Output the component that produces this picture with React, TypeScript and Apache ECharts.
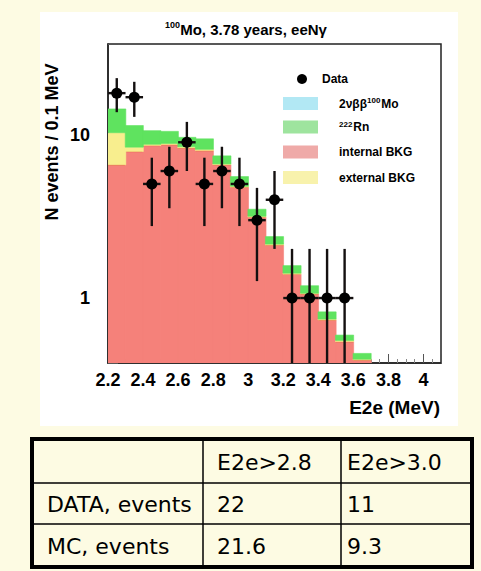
import React, { useEffect, useRef } from 'react';
import * as echarts from 'echarts';

// Histogram bin edges (MeV), 0.1 MeV bins
const binEdges = [2.2, 2.3, 2.4, 2.5, 2.6, 2.7, 2.8, 2.9, 3.0, 3.1, 3.2, 3.3, 3.4, 3.5, 3.6, 3.7];
// MC components (events / 0.1 MeV), stacked bottom -> top
const internalBkg = [6.55, 7.9, 8.6, 8.7, 8.3, 8.0, 6.55, 4.78, 3.13, 2.11, 1.4, 1.06, 0.733, 0.54, 0.417];
const externalBkg = [3.75, 0.5, 0.15, 0.15, 0.15, 0.15, 0.08, 0.06, 0.04, 0.03, 0.02, 0.01, 0.01, 0.01, 0.005];
const radon222 = [4.1, 3.0, 1.85, 1.65, 1.2, 1.3, 0.8, 0.71, 0.33, 0.24, 0.16, 0.12, 0.08, 0.043, 0.036];
const mo2nbb = [0, 0, 0, 0, 0, 0, 0, 0, 0, 0, 0, 0, 0, 0, 0];
// Data counts per bin and their errors
const dataCounts = [18, 17, 5, 6, 9, 5, 6, 5, 3, 4, 1, 1, 1, 1];
const dataErrors = [4.24, 4.12, 2.24, 2.45, 3.0, 2.24, 2.45, 2.24, 1.73, 2.0, 1.0, 1.0, 1.0, 1.0];
// Axis
const xTicks = ['2.2', '2.4', '2.6', '2.8', '3', '3.2', '3.4', '3.6', '3.8', '4'];
const yTickLabels = ['1', '10'];
// Table
const tableHeader = ['', 'E2e>2.8', 'E2e>3.0'];
const tableRows = [
  ['DATA, events', '22', '11'],
  ['MC, events', '21.6', '9.3'],
];

const X_MIN = 2.2;
const X_MAX = 4.1;
const Y_MIN = 0.4;
const Y_MAX = 36;

const layers = [
  { name: 'internal BKG', values: internalBkg, color: '#f5817a', top: '#d9472f' },
  { name: 'external BKG', values: externalBkg, color: '#f8ee8e', top: '' },
  { name: '222Rn', values: radon222, color: '#5fe35f', top: '' },
  { name: '2nbb', values: mo2nbb, color: '#aee6f2', top: '' },
];

export default function App() {
  const ref = useRef<HTMLDivElement>(null);
  useEffect(() => {
    if (!ref.current) return;
    const chart = echarts.init(ref.current, undefined, { renderer: 'svg' });

    const cum = binEdges.slice(0, -1).map(() => Y_MIN);
    const histSeries: any[] = layers.map((layer, li) => {
      const data = layer.values.map((v, i) => {
        const base = cum[i];
        const top = li === 0 ? v : cum[i] + v;
        cum[i] = top;
        return [binEdges[i], binEdges[i + 1], base, top];
      });
      return {
        type: 'custom',
        name: layer.name,
        clip: true,
        z: 2 + li,
        encode: { x: [0, 1], y: [2, 3] },
        data,
        renderItem: (params: any, api: any) => {
          const x0 = api.value(0), x1 = api.value(1), b = api.value(2), t = api.value(3);
          if (!(t > b)) return null;
          const p0 = api.coord([x0, t]);
          const p1 = api.coord([x1, b]);
          const children: any[] = [
            {
              type: 'rect',
              shape: { x: p0[0] - 0.3, y: p0[1], width: p1[0] - p0[0] + 0.6, height: p1[1] - p0[1] },
              style: { fill: layer.color, stroke: layer.color, lineWidth: 0.6 },
            },
          ];
          if (layer.top) {
            children.push({ type: 'line', shape: { x1: p0[0], y1: p0[1], x2: p1[0], y2: p0[1] }, style: { stroke: layer.top, lineWidth: 1.2 } });
          }
          return { type: 'group', children };
        },
      };
    });

    const pointData = dataCounts.map((n, i) => [
      binEdges[i], binEdges[i + 1], n, Math.max(n - dataErrors[i], Y_MIN), n + dataErrors[i],
    ]);

    const dataSeries = {
      type: 'custom',
      name: 'Data',
      clip: true,
      z: 10,
      encode: { x: [0, 1], y: [2, 3, 4] },
      data: pointData,
      renderItem: (params: any, api: any) => {
        const x0 = api.value(0), x1 = api.value(1), n = api.value(2), lo = api.value(3), hi = api.value(4);
        const xc = (x0 + x1) / 2;
        const pc = api.coord([xc, n]);
        const pl = api.coord([x0, n]);
        const pr = api.coord([x1, n]);
        const pLo = api.coord([xc, lo]);
        const pHi = api.coord([xc, hi]);
        return {
          type: 'group',
          children: [
            { type: 'line', shape: { x1: pc[0], y1: pHi[1], x2: pc[0], y2: pLo[1] }, style: { stroke: '#141010', lineWidth: 2.4 } },
            { type: 'line', shape: { x1: pl[0], y1: pc[1], x2: pr[0], y2: pc[1] }, style: { stroke: '#141010', lineWidth: 2.4 } },
            { type: 'circle', shape: { cx: pc[0], cy: pc[1], r: 5.5 }, style: { fill: '#000' } },
          ],
        };
      },
    };

    const labelFont = { fontFamily: 'Liberation Sans, Arial, sans-serif', fontWeight: 'bold' as const, color: '#000' };
    const legendItems = [
      { color: '#b2e8f4', text: '2\u03bd\u03b2\u03b2{s|100}Mo', y: 103.5 },
      { color: '#9ee49e', text: '{s|222}Rn', y: 127 },
      { color: '#efaaa8', text: 'internal BKG', y: 152 },
      { color: '#f8f2ac', text: 'external BKG', y: 177.5 },
    ];

    const graphics: any[] = [
      { type: 'rect', z: -10, shape: { x: 40, y: 12, width: 418, height: 414 }, style: { fill: '#ffffff' } },
      {
        type: 'text', x: 246, y: 29, z: 20,
        style: {
          text: '{s|100}{m|Mo, 3.78 years, eeN\u03b3}',
          align: 'center', verticalAlign: 'middle',
          rich: {
            s: { fontSize: 9, fontWeight: 'bold', fontFamily: 'Liberation Sans, Arial', fill: '#000', verticalAlign: 'top', padding: [0, 0, 8, 0] },
            m: { fontSize: 15, fontWeight: 'bold', fontFamily: 'Liberation Sans, Arial', fill: '#000' },
          },
        },
      },
      {
        type: 'text', x: 52, y: 142, rotation: Math.PI / 2, z: 20,
        style: { text: 'N events / 0.1 MeV', align: 'center', verticalAlign: 'middle', font: 'bold 18px "Liberation Sans", Arial', fill: '#000' },
      },
      {
        type: 'text', x: 440, y: 407, z: 20,
        style: { text: 'E2e (MeV)', align: 'right', verticalAlign: 'middle', font: 'bold 19px "Liberation Sans", Arial', fill: '#000' },
      },
      { type: 'circle', z: 20, shape: { cx: 302, cy: 79, r: 5 }, style: { fill: '#000' } },
      {
        type: 'text', x: 322, y: 79, z: 20,
        style: { text: 'Data', align: 'left', verticalAlign: 'middle', font: 'bold 12px "Liberation Sans", Arial', fill: '#000' },
      },
    ];
    legendItems.forEach((it) => {
      graphics.push({ type: 'rect', z: 20, shape: { x: 283, y: it.y - 6.5, width: 35, height: 13 }, style: { fill: it.color } });
      graphics.push({
        type: 'text', x: 339, y: it.y, z: 20,
        style: {
          text: it.text, align: 'left', verticalAlign: 'middle',
          font: 'bold 12px "Liberation Sans", Arial', fill: '#000',
          rich: {
            s: { fontSize: 8, fontWeight: 'bold', fontFamily: 'Liberation Sans, Arial', fill: '#000', verticalAlign: 'top', padding: [0, 1, 6, 0] },
          },
        },
      });
    });

    // Table
    const tX = [32, 203, 341, 472];
    const tY = [439, 483, 524, 567];
    const textX = [47, 217, 347];
    const tableFont = '22px "DejaVu Sans", Verdana, sans-serif';
    [1, 2].forEach((r) => {
      graphics.push({ type: 'line', z: 20, shape: { x1: tX[0], y1: tY[r], x2: tX[3], y2: tY[r] }, style: { stroke: '#000', lineWidth: 1.5 } });
    });
    [1, 2].forEach((c) => {
      graphics.push({ type: 'line', z: 20, shape: { x1: tX[c], y1: tY[0], x2: tX[c], y2: tY[3] }, style: { stroke: '#000', lineWidth: 1.5 } });
    });
    graphics.push({ type: 'rect', z: 21, shape: { x: tX[0], y: tY[0], width: tX[3] - tX[0], height: tY[3] - tY[0] }, style: { fill: 'none', stroke: '#000', lineWidth: 4 } });
    const allRows = [tableHeader, ...tableRows];
    allRows.forEach((row, r) => {
      row.forEach((cell, c) => {
        if (!cell) return;
        graphics.push({
          type: 'text', z: 22, x: textX[c], y: (tY[r] + tY[r + 1]) / 2 + 1,
          style: { text: cell, align: 'left', verticalAlign: 'middle', font: tableFont, fill: '#000' },
        });
      });
    });

    chart.setOption({
      animation: false,
      backgroundColor: '#fdfbe3',
      grid: { left: 108, right: 40, top: 44, bottom: 208, show: true, backgroundColor: '#ffffff', borderColor: '#222', borderWidth: 1.5 },
      xAxis: {
        type: 'value', min: X_MIN, max: X_MAX, interval: 0.2,
        axisLine: { show: true, lineStyle: { color: '#222', width: 1.5 } },
        axisTick: { show: true, inside: true, length: 9, lineStyle: { color: '#555' } },
        minorTick: { show: true, splitNumber: 4, length: 4, lineStyle: { color: '#888' } },
        splitLine: { show: false },
        axisLabel: {
          ...labelFont, fontSize: 18, margin: 8, showMaxLabel: false,
          formatter: (v: number) => {
            const s = String(Math.round(v * 10) / 10);
            return xTicks.includes(s) ? s : '';
          },
        },
      },
      yAxis: {
        type: 'log', logBase: 10, min: Y_MIN, max: Y_MAX,
        axisLine: { show: true, lineStyle: { color: '#222', width: 1.5 } },
        axisTick: { show: true, inside: true, length: 10, lineStyle: { color: '#555' } },
        splitLine: { show: false },
        axisLabel: {
          ...labelFont, fontSize: 18, margin: 18,
          formatter: (v: number) => {
            const s = String(Math.round(v * 1000) / 1000);
            return yTickLabels.includes(s) ? s : '';
          },
        },
      },
      graphic: { elements: graphics },
      series: [...histSeries, dataSeries],
    });
    return () => chart.dispose();
  }, []);
  return <div ref={ref} style={{ position: 'fixed', left: 0, top: 0, width: 481, height: 571 }} />;
}
